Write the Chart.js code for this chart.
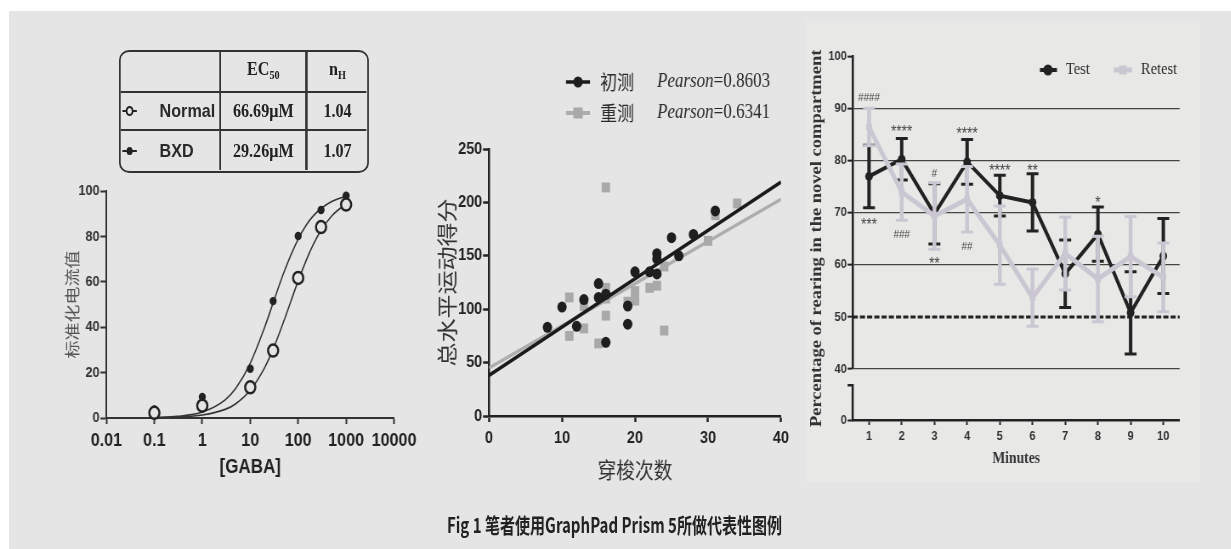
<!DOCTYPE html>
<html>
<head>
<meta charset="utf-8">
<title>Fig 1</title>
<script src="https://cdn.jsdelivr.net/npm/chart.js@4.4.1/dist/chart.umd.min.js"></script>
<style>
  html, body { margin: 0; padding: 0; background: #fff; overflow: hidden; }
  body { width: 1231px; height: 549px; position: relative; }
  #bg { position: absolute; left: 9px; top: 11px; right: 0; bottom: 0; background: #e5e5e5; }
  #bgC { position: absolute; left: 806px; top: 20px; width: 394px; height: 462px; background: #e8e8e7; }
  #fig { position: absolute; left: 0; top: 0; width: 1449px; height: 549px; transform: scaleX(0.85); transform-origin: 0 0; }
  #fig canvas { position: absolute; }
  #tbl { position: absolute; box-sizing: border-box; border: 2.5px solid #333; border-radius: 12px / 10px; }
  #tbl .ln { position: absolute; background: #333; }
  #tbl .cell { position: absolute; display: flex; align-items: center; justify-content: center; color: #222; font: bold 19px 'Liberation Serif', serif; }
  #tbl .name { position: absolute; display: flex; align-items: center; font: bold 19px 'Liberation Sans', sans-serif; color: #2a2a2a; }
  #tbl .mk { position: absolute; box-sizing: border-box; border-radius: 50%; }
  #tbl sub { font-size: 12px; vertical-align: -4px; }
  #cap { position: absolute; left: 723px; top: 512px; white-space: nowrap; font: bold 21px 'Noto Sans CJK SC', sans-serif; color: #222; line-height: 24px; transform-origin: 50% 50%; }
</style>
</head>
<body>
<div id="bg"></div><div id="bgC"></div>
<div id="fig">
  <div id="tbl"></div>
  <canvas id="cA"></canvas>
  <canvas id="cB"></canvas>
  <canvas id="cC"></canvas>
  <div id="cap">Fig 1 笔者使用GraphPad Prism 5所做代表性图例</div>
</div>
<script>
// panel A: GABA dose-response
const doseTicks = [0.01, 0.1, 1, 10, 100, 1000, 10000];
const doses = [0.1, 1, 10, 30, 100, 300, 1000];
const normalResp = [2.3, 5.4, 13.5, 29.7, 61.7, 84.1, 94.0];
const bxdResp = [3.8, 9.3, 21.7, 51.5, 80.2, 91.6, 97.9];
// the two fitted curves
const curveDoses = [0.1, 0.3, 1, 3, 5, 10, 20, 30, 50, 100, 150, 200, 300, 500, 1000];
const normalCurve = [0.1, 0.4, 1.3, 3.8, 6.3, 12.2, 22.2, 30.3, 42.6, 60.4, 69.9, 75.8, 82.7, 89.0, 94.4];
const bxdCurve = [0.2, 0.7, 2.6, 8.0, 13.1, 24.1, 40.0, 50.7, 64.0, 78.8, 85.2, 88.7, 92.3, 95.4, 97.8];
const groups = ['Normal', 'BXD'];
const ec50 = ['66.69μM', '29.26μM'];
const hillN = ['1.04', '1.07'];

// panel B: scatter with regression lines
const seriesB = ['初测', '重测'];
const pearson = ['0.8603', '0.6341'];
const testX = [8, 10, 12, 13, 15, 15, 16, 16, 19, 19, 20, 22, 23, 23, 23, 25, 26, 28, 31];
const testY = [83, 102, 84, 109, 124, 111, 114, 69, 103, 86, 135, 135, 152, 147, 133, 167, 150, 170, 192];
const retestX = [11, 11, 13, 13, 15, 16, 16, 16, 16, 19, 20, 20, 22, 23, 24, 24, 30, 31, 34];
const retestY = [111, 75, 103, 82, 68, 120, 110, 94, 214, 107, 117, 108, 120, 122, 140, 80, 164, 188, 199];
const fitX = [0, 40];
const testFitY = [38, 219];
const retestFitY = [45, 203];

// panel C: rearing per minute, mean and SEM
const minutes = ['1', '2', '3', '4', '5', '6', '7', '8', '9', '10'];
const testMean = [77.0, 80.3, 69.8, 79.8, 73.3, 72.0, 58.3, 65.9, 50.8, 61.7];
const testSem = [6.0, 4.0, 5.8, 4.3, 3.9, 5.5, 6.5, 5.2, 7.9, 7.2];
const retestMean = [86.5, 74.0, 69.4, 72.6, 63.8, 53.7, 62.2, 57.3, 61.6, 57.6];
const retestSem = [3.6, 5.4, 6.4, 6.3, 7.5, 5.5, 7.0, 8.2, 7.7, 6.6];
const sigMinutes = [1, 1, 2, 2, 3, 3, 4, 4, 5, 6, 8];
const sigLevels = [92.3, 68.5, 86.3, 65.9, 77.7, 61.0, 86.0, 63.7, 78.9, 78.9, 72.7];
const sigMarks = ['####', '***', '****', '###', '#', '**', '****', '##', '****', '**', '*'];
const chance = 50;
const lowRange = [0, 9.8];
const highRange = [40, 100];
const lowAxisTop = 6.7;

const S = 0.85; // the original figure is squeezed horizontally
const cjk = "'Noto Sans CJK SC', sans-serif";
const sans = "'Liberation Sans', Arial, sans-serif";
const serif = "'Liberation Serif', 'Times New Roman', serif";
Chart.defaults.font.family = sans;
Chart.defaults.animation = false;
Chart.defaults.events = [];
Chart.defaults.plugins.legend.display = false;
Chart.defaults.plugins.tooltip.enabled = false;

// page boxes: canvas (x,y,w,h) and plot area (l,r,t,b)
const boxA = {x: 20, y: 175, w: 400, h: 310, l: 106, r: 395, t: 191, b: 418};
const boxB = {x: 425, y: 55, w: 380, h: 432, l: 489, r: 781, t: 149, b: 416};
const boxC = {x: 805, y: 40, w: 398, h: 445, l: 852.7, r: 1179.7, t: 56.7, b: 420};

function setup(id, box) {
  const c = document.getElementById(id);
  box.W = Math.round(box.w / S);
  c.width = box.W;
  c.height = box.h;
  c.style.left = box.x / S + 'px';
  c.style.top = box.y + 'px';
  return c;
}
const padOf = box => ({left: 0, top: box.t - box.y, right: box.W - (box.r - box.x) / S, bottom: 0});
const yWidth = box => s => { s.width = (box.l - box.x) / S; };
const xHeight = box => s => { s.height = box.y + box.h - box.b; };
const yTitlePad = (box, cx, size) => (cx - box.x) / S - size * 0.6;
const xTitlePad = (box, cy, size) => box.y + box.h - cy - size * 0.6;
const ix = (box, px) => (px - box.x) / S;
const iy = (box, py) => py - box.y;
const axisStyle = (color, width, len) => ({
  grid: {drawOnChartArea: false, tickLength: len, tickWidth: width, tickColor: color},
  border: {color: color, width: width}
});
const pts = (xs, ys) => xs.map((x, i) => ({x: x, y: ys[i]}));

// ---------- A ----------
new Chart(setup('cA', boxA), {
  type: 'scatter',
  data: {
    datasets: [
      {data: pts(doses, normalResp), pointRadius: 6, borderWidth: 2.5, borderColor: '#222', backgroundColor: '#e5e5e5', clip: false},
      {data: pts(doses, bxdResp), pointRadius: 4.2, borderWidth: 0, backgroundColor: '#222', clip: false},
      {data: pts(curveDoses, normalCurve), showLine: true, pointRadius: 0, borderColor: '#333', borderWidth: 1.6, cubicInterpolationMode: 'monotone'},
      {data: pts(curveDoses, bxdCurve), showLine: true, pointRadius: 0, borderColor: '#333', borderWidth: 1.6, cubicInterpolationMode: 'monotone'}
    ]
  },
  options: {
    responsive: false,
    layout: {padding: padOf(boxA)},
    scales: {
      x: {
        type: 'logarithmic', min: 0.01, max: 10000,
        afterBuildTicks: s => { s.ticks = doseTicks.map(v => ({value: v})); },
        afterFit: xHeight(boxA),
        ticks: {autoSkip: false, maxRotation: 0, padding: 5, color: '#222', font: {size: 19, weight: 'bold'}, callback: v => String(v)},
        ...axisStyle('#333', 2, 6),
        title: {display: true, text: '[GABA]', color: '#222', font: {size: 20, weight: 'bold'}, padding: {top: 0, bottom: xTitlePad(boxA, 467, 20)}}
      },
      y: {
        min: 0, max: 100,
        afterFit: yWidth(boxA),
        ticks: {stepSize: 20, padding: 1, color: '#333', font: {size: 15, weight: 'bold'}},
        ...axisStyle('#333', 2, 7),
        title: {display: true, text: '标准化电流值', color: '#555', font: {family: cjk, size: 18}, padding: {top: yTitlePad(boxA, 72, 18), bottom: 0}}
      }
    }
  }
});

// table of fit parameters
(function () {
  const T = {x: 119, y: 50, w: 250.3, h: 122.7};
  const colEdges = [119, 220.7, 306.7, 369.3];
  const rowEdges = [50, 92.3, 130.7, 172.7];
  const bw = 2.5;
  const tbl = document.getElementById('tbl');
  tbl.style.left = T.x / S + 'px';
  tbl.style.top = T.y + 'px';
  tbl.style.width = T.w / S + 'px';
  tbl.style.height = T.h + 'px';
  const cx = v => (v - T.x) / S - bw;
  const cy = v => v - T.y - bw;
  const add = (cls, st, html) => {
    const d = document.createElement('div');
    d.className = cls;
    Object.assign(d.style, st);
    if (html) d.innerHTML = html;
    tbl.appendChild(d);
    return d;
  };
  [1, 2].forEach(k => {
    add('ln', {left: cx(colEdges[k]) - 1.25 + 'px', top: 0, width: '2.5px', height: T.h - 2 * bw + 'px'});
    add('ln', {top: cy(rowEdges[k]) - 1.25 + 'px', left: 0, height: '2.5px', width: T.w / S - 2 * bw + 'px'});
  });
  const cell = (c, r, html) => add('cell', {
    left: cx(colEdges[c]) + 'px', width: cx(colEdges[c + 1]) - cx(colEdges[c]) + 'px',
    top: cy(rowEdges[r]) + 'px', height: cy(rowEdges[r + 1]) - cy(rowEdges[r]) + 'px'
  }, '<span>' + html + '</span>');
  cell(1, 0, 'EC<sub>50</sub>');
  cell(2, 0, 'n<sub>H</sub>');
  groups.forEach((g, i) => {
    const r = i + 1;
    cell(1, r, ec50[i]);
    cell(2, r, hillN[i]);
    add('name', {left: cx(160) + 'px', top: cy(rowEdges[r]) + 'px', height: cy(rowEdges[r + 1]) - cy(rowEdges[r]) + 'px'}, g);
    const mid = (cy(rowEdges[r]) + cy(rowEdges[r + 1])) / 2;
    const open = i === 0;
    const left = cx(122.7);
    add('ln', {left: left + 'px', top: mid - 1.25 + 'px', width: '17px', height: '2.5px', background: '#222'});
    const d = open ? 9.5 : 7.5;
    add('mk', {left: left + 8.5 - d / 2 + 'px', top: mid - d / 2 + 'px', width: d + 'px', height: d + 'px',
      background: open ? '#e5e5e5' : '#222', border: open ? '2.2px solid #222' : 'none'});
  });
})();

// ---------- B ----------
const legendB = {
  id: 'legendB',
  afterDraw(chart) {
    const ctx = chart.ctx;
    const ds = chart.data.datasets;
    [82, 113].forEach((py, i) => {
      const marks = ds[i * 2], line = ds[i * 2 + 1];
      const y = iy(boxB, py);
      ctx.save();
      ctx.strokeStyle = line.borderColor;
      ctx.lineWidth = i ? 4 : 3.5;
      ctx.beginPath();
      ctx.moveTo(ix(boxB, 566), y);
      ctx.lineTo(ix(boxB, 590), y);
      ctx.stroke();
      ctx.fillStyle = marks.backgroundColor;
      const mx = ix(boxB, 578);
      if (marks.pointStyle === 'rect') {
        ctx.fillRect(mx - 5.5, y - 5.5, 11, 11);
      } else {
        ctx.beginPath();
        ctx.arc(mx, y, 5.5, 0, Math.PI * 2);
        ctx.fill();
      }
      ctx.fillStyle = '#2a2a2a';
      ctx.textBaseline = 'middle';
      ctx.font = '20px ' + cjk;
      ctx.fillText(seriesB[i], ix(boxB, 600), y);
      let x = ix(boxB, 657);
      ctx.font = 'italic 20px ' + serif;
      ctx.fillText('Pearson', x, y);
      x += ctx.measureText('Pearson').width;
      ctx.font = '20px ' + serif;
      ctx.fillText('=' + pearson[i], x, y);
      ctx.restore();
    });
  }
};

new Chart(setup('cB', boxB), {
  type: 'scatter',
  data: {
    datasets: [
      {data: pts(testX, testY), pointStyle: 'circle', pointRadius: 5.5, borderWidth: 0, backgroundColor: '#1e1e1e', clip: false},
      {data: pts(fitX, testFitY), showLine: true, pointRadius: 0, borderColor: '#1a1a1a', borderWidth: 3.5},
      {data: pts(retestX, retestY), pointStyle: 'rect', pointRadius: 7, borderWidth: 0, backgroundColor: '#a9a9a9', clip: false},
      {data: pts(fitX, retestFitY), showLine: true, pointRadius: 0, borderColor: '#adadad', borderWidth: 3.5}
    ]
  },
  options: {
    responsive: false,
    layout: {padding: padOf(boxB)},
    scales: {
      x: {
        type: 'linear', min: 0, max: 40,
        afterFit: xHeight(boxB),
        ticks: {stepSize: 10, padding: 6, color: '#222', font: {size: 17, weight: 'bold'}},
        ...axisStyle('#222', 2.5, 6),
        title: {display: true, text: '穿梭次数', color: '#333', font: {family: cjk, size: 22}, padding: {top: 0, bottom: xTitlePad(boxB, 470, 22)}}
      },
      y: {
        min: 0, max: 250,
        afterFit: yWidth(boxB),
        ticks: {stepSize: 50, padding: 1, color: '#222', font: {size: 17, weight: 'bold'}},
        ...axisStyle('#222', 2.5, 7),
        title: {display: true, text: '总水平运动得分', color: '#333', font: {family: cjk, size: 24}, padding: {top: yTitlePad(boxB, 447, 24), bottom: 0}}
      }
    }
  },
  plugins: [legendB]
});

// ---------- C ----------
const decorC = {
  id: 'decorC',
  beforeDatasetsDraw(chart) {
    const {ctx, chartArea} = chart;
    const y = chart.scales.yHigh.getPixelForValue(chance);
    ctx.save();
    ctx.strokeStyle = '#222';
    ctx.lineWidth = 3;
    ctx.setLineDash([6, 2.5]);
    ctx.beginPath();
    ctx.moveTo(chartArea.left, y);
    ctx.lineTo(chartArea.right, y);
    ctx.stroke();
    ctx.restore();
  },
  beforeDatasetDraw(chart, args) {
    const ds = chart.data.datasets[args.index];
    const ctx = chart.ctx;
    const xs = chart.scales.x, ys = chart.scales[ds.yAxisID];
    ctx.save();
    ctx.strokeStyle = ds.borderColor;
    ds.data.forEach((m, i) => {
      const px = xs.getPixelForValue(i);
      const top = ys.getPixelForValue(m + ds.sem[i]);
      const bot = ys.getPixelForValue(m - ds.sem[i]);
      ctx.lineWidth = ds.barWidth;
      ctx.beginPath();
      ctx.moveTo(px, top);
      ctx.lineTo(px, bot);
      ctx.stroke();
      ctx.lineWidth = 3;
      ctx.beginPath();
      ctx.moveTo(px - 7, top); ctx.lineTo(px + 7, top);
      ctx.moveTo(px - 7, bot); ctx.lineTo(px + 7, bot);
      ctx.stroke();
    });
    ctx.restore();
  },
  afterDatasetsDraw(chart) {
    const ctx = chart.ctx;
    const xs = chart.scales.x, ys = chart.scales.yHigh;
    ctx.save();
    ctx.fillStyle = '#444';
    ctx.textAlign = 'center';
    ctx.textBaseline = 'alphabetic';
    sigMarks.forEach((t, i) => {
      const star = t[0] === '*';
      const size = star ? 16 : 11.5;
      ctx.font = size + 'px ' + sans;
      ctx.fillText(t, xs.getPixelForValue(sigMinutes[i] - 1), ys.getPixelForValue(sigLevels[i]) + size * (star ? 0.57 : 0.35));
    });
    ctx.restore();
  },
  afterDraw(chart) {
    const {ctx, chartArea} = chart;
    const low = chart.scales.yLow;
    ctx.save();
    // lower piece of the broken y axis
    ctx.strokeStyle = '#222';
    ctx.lineWidth = 2.5;
    const y0 = low.getPixelForValue(lowRange[0]), y1 = low.getPixelForValue(lowAxisTop);
    ctx.beginPath();
    ctx.moveTo(chartArea.left, y0);
    ctx.lineTo(chartArea.left, y1);
    ctx.lineTo(chartArea.left - 6, y1);
    ctx.stroke();
    // y title
    ctx.fillStyle = '#333';
    ctx.font = 'bold 18.5px ' + serif;
    ctx.textAlign = 'center';
    ctx.textBaseline = 'middle';
    ctx.translate(ix(boxC, 817), (chartArea.top + chartArea.bottom) / 2);
    ctx.rotate(-Math.PI / 2);
    ctx.fillText('Percentage of rearing in the novel compartment', 0, 0);
    ctx.restore();
    // legend
    const ds = chart.data.datasets;
    const items = [
      {d: ds[1], x1: 1040, x2: 1057, mx: 1048, tx: 1066},
      {d: ds[0], x1: 1114, x2: 1132, mx: 1123, tx: 1141}
    ];
    const y = iy(boxC, 70);
    ctx.save();
    items.forEach(it => {
      ctx.strokeStyle = it.d.borderColor;
      ctx.lineWidth = it.d.borderWidth;
      ctx.beginPath();
      ctx.moveTo(ix(boxC, it.x1), y);
      ctx.lineTo(ix(boxC, it.x2), y);
      ctx.stroke();
      ctx.fillStyle = it.d.backgroundColor;
      const mx = ix(boxC, it.mx);
      if (it.d.pointStyle === 'rect') {
        ctx.fillRect(mx - 4.5, y - 4.5, 9, 9);
      } else {
        ctx.beginPath();
        ctx.arc(mx, y, 5.5, 0, Math.PI * 2);
        ctx.fill();
      }
      ctx.fillStyle = '#2a2a2a';
      ctx.font = '17px ' + serif;
      ctx.textBaseline = 'middle';
      ctx.fillText(it.d.label, ix(boxC, it.tx), y);
    });
    ctx.restore();
  }
};

new Chart(setup('cC', boxC), {
  type: 'line',
  data: {
    labels: minutes,
    datasets: [
      {label: 'Retest', data: retestMean, sem: retestSem, yAxisID: 'yHigh', borderColor: '#cac7d2', backgroundColor: '#cac7d2',
        borderWidth: 5, pointStyle: 'rect', pointRadius: 4.8, pointBorderWidth: 0, order: 0, barWidth: 4.5},
      {label: 'Test', data: testMean, sem: testSem, yAxisID: 'yHigh', borderColor: '#222', backgroundColor: '#222',
        borderWidth: 4, pointStyle: 'circle', pointRadius: 4.5, pointBorderWidth: 0, order: 1, barWidth: 4}
    ]
  },
  options: {
    responsive: false,
    layout: {padding: padOf(boxC)},
    scales: {
      x: {
        type: 'category', offset: true,
        afterFit: xHeight(boxC),
        ticks: {padding: 4, color: '#333', font: {size: 13, weight: 'bold'}},
        grid: {offset: false, drawOnChartArea: false, tickLength: 5, tickWidth: 2, tickColor: '#222'},
        border: {color: '#222', width: 2.5},
        title: {display: true, text: 'Minutes', color: '#333', font: {family: serif, size: 16, weight: 'bold'}, padding: {top: 0, bottom: xTitlePad(boxC, 459, 16)}}
      },
      yLow: {
        type: 'linear', position: 'left', stack: 'rearing', stackWeight: lowRange[1] - lowRange[0],
        min: lowRange[0], max: lowRange[1],
        afterBuildTicks: s => { s.ticks = [{value: lowRange[0]}]; },
        afterFit: yWidth(boxC),
        ticks: {padding: 1, color: '#333', font: {size: 13, weight: 'bold'}},
        grid: {drawOnChartArea: false, tickLength: 6, tickWidth: 2, tickColor: '#222'},
        border: {display: false}
      },
      yHigh: {
        type: 'linear', position: 'left', stack: 'rearing', stackWeight: highRange[1] - highRange[0],
        min: highRange[0], max: highRange[1],
        afterFit: yWidth(boxC),
        ticks: {stepSize: 10, padding: 1, color: '#333', font: {size: 13, weight: 'bold'}},
        grid: {
          color: c => (c.tick && (c.tick.value === chance || c.tick.value === highRange[1])) ? 'rgba(0,0,0,0)' : '#444',
          lineWidth: 1.3, tickLength: 6, tickWidth: 2, tickColor: '#222'
        },
        border: {color: '#222', width: 2.5}
      }
    }
  },
  plugins: [decorC]
});

// caption squeezed to the width it has in the figure
const cap = document.getElementById('cap');
cap.style.transform = 'translateX(-50%) scaleX(' + ((335 / S) / cap.offsetWidth) + ')';
</script>
</body>
</html>
